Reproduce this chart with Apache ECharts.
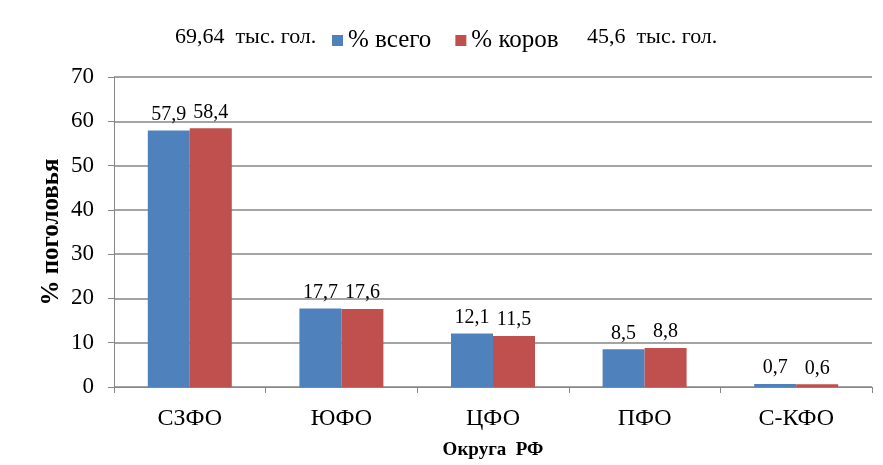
<!DOCTYPE html>
<html>
<head>
<meta charset="utf-8">
<script src="https://cdn.jsdelivr.net/npm/echarts@6/dist/echarts.min.js"></script>
<style>html,body{margin:0;padding:0;background:#fff}#c{width:883px;height:465px}</style>
</head>
<body>
<div id="c"></div>
<script>
var categories = ['СЗФО', 'ЮФО', 'ЦФО', 'ПФО', 'С-КФО'];
var seriesNames = ['% всего', '% коров'];
var totalAll = [57.9, 17.7, 12.1, 8.5, 0.7];
var totalCows = [58.4, 17.6, 11.5, 8.8, 0.6];
var yTicks = {min: 0, max: 70, interval: 10};
var leftNote = '69,64  тыс. гол.';
var rightNote = '45,6  тыс. гол.';
var xName = 'Округа  РФ';
var yName = '% поголовья';

var FONT = 'Liberation Serif';
var chart = echarts.init(document.getElementById('c'));
function fmt(p){ return String(p.value).replace('.', ','); }
var labelStyle = {show: true, position: 'top', distance: 6, fontFamily: FONT, fontSize: 20, color: '#000', formatter: fmt};
chart.setOption({
  animation: false,
  textStyle: {fontFamily: FONT},
  grid: {left: 114, right: 11, top: 77, bottom: 77},
  legend: {
    data: seriesNames, left: 327, top: 23, itemWidth: 11, itemHeight: 11, itemGap: 24,
    icon: 'rect',
    textStyle: {fontFamily: FONT, fontSize: 25, color: '#000'}
  },
  graphic: [
    {type: 'text', left: 175, top: 26, style: {text: leftNote, font: '22px "Liberation Serif"', fill: '#000'}},
    {type: 'text', left: 587, top: 26, style: {text: rightNote, font: '22px "Liberation Serif"', fill: '#000'}}
  ],
  xAxis: {
    type: 'category', data: categories,
    name: xName, nameLocation: 'middle', nameGap: 54, nameMoveOverlap: false,
    nameTextStyle: {fontFamily: FONT, fontSize: 19, fontWeight: 'bold', color: '#000'},
    axisLine: {lineStyle: {color: '#868686', width: 1}},
    axisTick: {show: true, length: 6, lineStyle: {color: '#868686'}},
    axisLabel: {fontFamily: FONT, fontSize: 24, color: '#000', margin: 20}
  },
  yAxis: {
    type: 'value', min: yTicks.min, max: yTicks.max, interval: yTicks.interval,
    name: yName, nameLocation: 'middle', nameGap: 50, nameMoveOverlap: false,
    nameTextStyle: {fontFamily: FONT, fontSize: 25, fontWeight: 'bold', color: '#000'},
    axisLine: {show: true, lineStyle: {color: '#868686', width: 1}},
    axisTick: {show: true, length: 6, lineStyle: {color: '#868686'}},
    axisLabel: {fontFamily: FONT, fontSize: 23, color: '#000', margin: 20},
    splitLine: {show: true, lineStyle: {color: '#868686', width: 1.5}}
  },
  series: [
    {name: seriesNames[0], type: 'bar', data: totalAll, barWidth: 42, barGap: '0%', itemStyle: {color: '#4F81BD'}, label: labelStyle},
    {name: seriesNames[1], type: 'bar', data: totalCows, barWidth: 42, barGap: '0%', itemStyle: {color: '#C0504D'}, label: labelStyle}
  ]
});
</script>
</body>
</html>
